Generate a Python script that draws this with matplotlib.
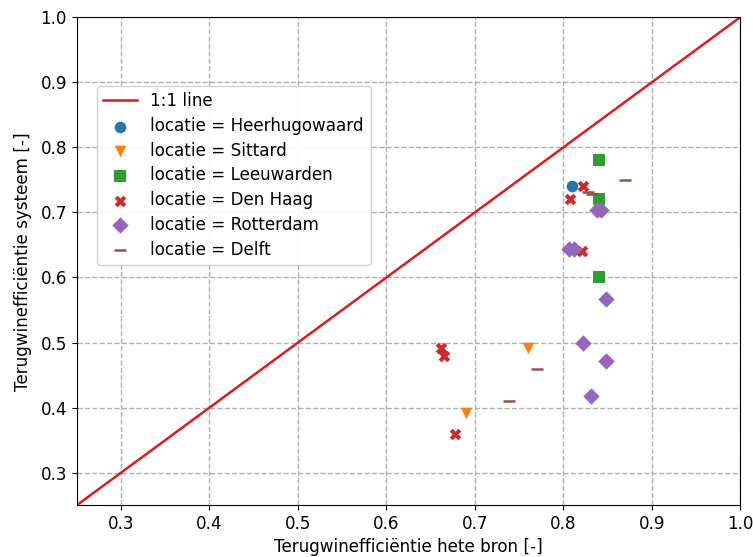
import matplotlib
matplotlib.use("Agg")
import matplotlib.pyplot as plt

plt.rcParams['font.family'] = ['DejaVu Sans']
plt.rcParams['font.size'] = 12.1

line_x = [0.0, 1.0]
line_y = [0.0, 1.0]

locations = ["Heerhugowaard", "Sittard", "Leeuwarden", "Den Haag", "Rotterdam", "Delft"]
markers = ["o", "v", "s", "X", "D", "_"]
colors = ["#1f77b4", "#ff7f0e", "#2ca02c", "#d62728", "#9467bd", "#8c564b"]

heerhugowaard_x = [0.810]
heerhugowaard_y = [0.740]
sittard_x = [0.760, 0.690]
sittard_y = [0.492, 0.392]
leeuwarden_x = [0.840, 0.840, 0.840]
leeuwarden_y = [0.780, 0.720, 0.600]
denhaag_x = [0.822, 0.808, 0.821, 0.662, 0.665, 0.678]
denhaag_y = [0.740, 0.720, 0.640, 0.491, 0.479, 0.360]
rotterdam_x = [0.838, 0.843, 0.806, 0.812, 0.848, 0.822, 0.848, 0.831]
rotterdam_y = [0.703, 0.703, 0.644, 0.644, 0.567, 0.499, 0.472, 0.418]
delft_x = [0.828, 0.833, 0.870, 0.770, 0.739]
delft_y = [0.732, 0.729, 0.750, 0.460, 0.410]

xs = [heerhugowaard_x, sittard_x, leeuwarden_x, denhaag_x, rotterdam_x, delft_x]
ys = [heerhugowaard_y, sittard_y, leeuwarden_y, denhaag_y, rotterdam_y, delft_y]

fig = plt.figure(figsize=(7.53, 5.57), dpi=100)
ax = fig.add_axes([0.102, 0.093, 0.881, 0.876])

ax.plot(line_x, line_y, color="#e31a1c", lw=1.8, label="1:1 line", zorder=2)
for loc, m, c, x, y in zip(locations, markers, colors, xs, ys):
    if m == "_":
        ax.scatter(x, y, marker=m, color=c, s=70, linewidths=1.8,
                   label=f"locatie = {loc}", zorder=3)
    else:
        ax.scatter(x, y, marker=m, color=c, s=70, linewidths=0,
                   label=f"locatie = {loc}", zorder=3)

ax.set_xlim(0.25, 1.0)
ax.set_ylim(0.25, 1.0)
ax.set_xticks([0.3, 0.4, 0.5, 0.6, 0.7, 0.8, 0.9, 1.0])
ax.set_yticks([0.3, 0.4, 0.5, 0.6, 0.7, 0.8, 0.9, 1.0])
ax.grid(True, linestyle="--", color="#b0b0b0", lw=1.0)
ax.set_axisbelow(True)
ax.set_xlabel("Terugwinefficiëntie hete bron [-]", labelpad=4)
ax.set_ylabel("Terugwinefficiëntie systeem [-]", labelpad=6)

ax.legend(loc="upper left", bbox_to_anchor=(0.03, 0.86), borderaxespad=0,
          framealpha=0.9, fontsize=12.1, labelspacing=0.4)

fig.savefig("out.png", dpi=100)
